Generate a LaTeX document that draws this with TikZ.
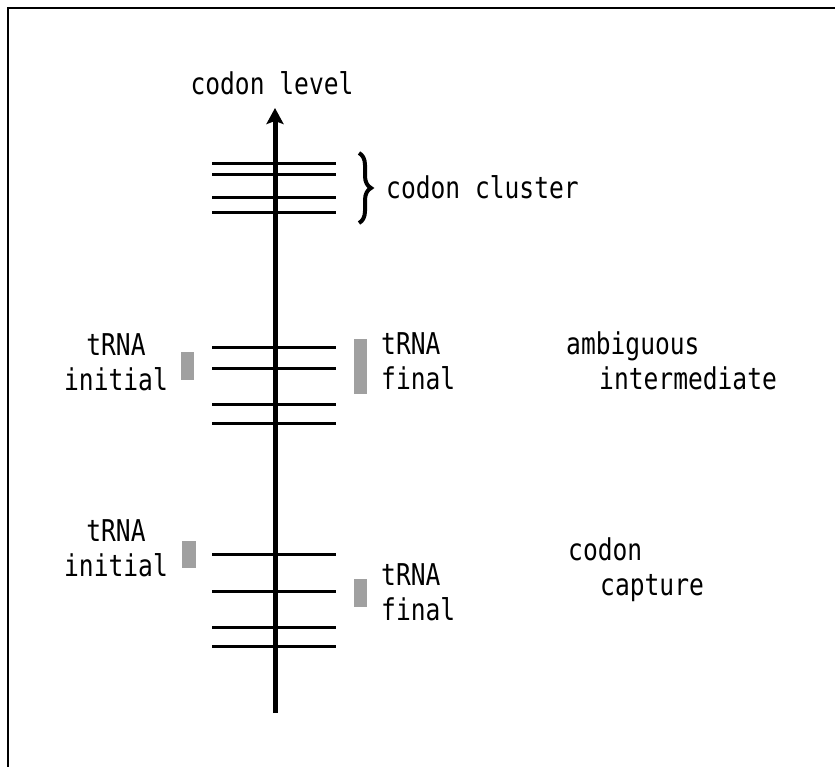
\documentclass[tikz,border=0pt]{standalone}
\usepackage{fontspec}
\newfontfamily\labelfont{DejaVu Sans Mono}[FakeStretch=0.82]
\usetikzlibrary{arrows.meta,decorations.pathreplacing}
\definecolor{bargray}{HTML}{A0A0A0}
\tikzset{
  txt/.style={font=\labelfont\fontsize{30}{35}\selectfont, inner sep=0pt},
  level/.style={line width=3pt},
  trnabar/.style={fill=bargray},
}
\begin{document}
\begin{tikzpicture}[x=1pt, y=-1pt]
  \useasboundingbox (0,0) rectangle (835,766);
  \clip (0,0) rectangle (835,766);
  \draw [line width=1.5pt] (8,800) -- (8,8) -- (900,8);

  % axis
  \coordinate (axisbottom) at (275,713);
  \coordinate (axistop) at (275,108);
  \draw [line width=5pt, -{Stealth[length=16pt, width=17pt, inset=3pt]}] (axisbottom) -- (axistop);
  \node [txt, anchor=base] (axislabel) at (272,94) {codon level};

  % codon levels
  \foreach \y in {163, 174, 197, 212, 347, 368, 404, 423, 554, 591, 627, 646}
    \draw [level] (212,\y) -- (336,\y);

  \draw [line width=4pt, decorate, decoration={brace, amplitude=12pt}] (359,153) -- (359,223);
  \node [txt, anchor=base west] (cluster) at (386,198) {codon cluster};

  % tRNA ranges
  \fill [trnabar] (181,352) rectangle (194,380);
  \fill [trnabar] (354,339) rectangle (367,394);
  \fill [trnabar] (182,541) rectangle (196,568);
  \fill [trnabar] (354,579) rectangle (367,607);

  \node [txt, align=center, anchor=base] (initA) at (116,390) {tRNA\\initial};
  \node [txt, align=left, anchor=base west] (finalA) at (381,389) {tRNA\\final};
  \node [txt, align=center, anchor=base] (initB) at (116,576) {tRNA\\initial};
  \node [txt, align=left, anchor=base west] (finalB) at (381,620) {tRNA\\final};

  \node [txt, align=left, anchor=base west] (ambig) at (566,389) {ambiguous\\\hspace*{33pt}intermediate};
  \node [txt, align=left, anchor=base west] (capture) at (568,595) {codon\\\hspace*{32pt}capture};
\end{tikzpicture}
\end{document}
